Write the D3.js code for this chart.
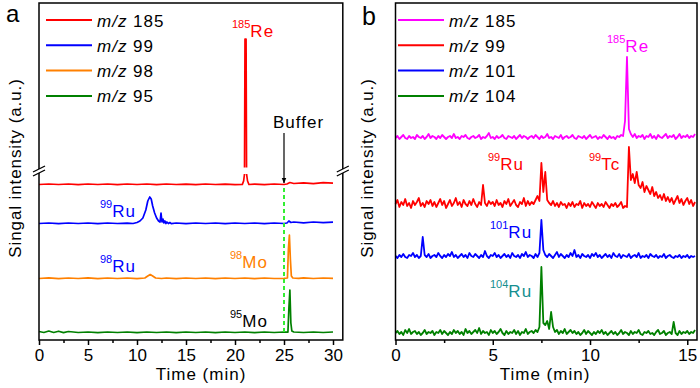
<!DOCTYPE html>
<html>
<head>
<meta charset="utf-8">
<script src="https://cdn.jsdelivr.net/npm/d3@7"></script>
<style>
  body { margin: 0; background: #fff; }
  svg text { font-family: "Liberation Sans", Arial, sans-serif; }
</style>
</head>
<body>
<script>
// ---- data ----
const legendA = ["185", "99", "98", "95"];
const legendB = ["185", "99", "101", "104"];
const ticksA = [0, 5, 10, 15, 20, 25, 30];
const minorA = [2.5, 7.5, 12.5, 17.5, 22.5, 27.5];
const ticksB = [0, 5, 10, 15];
const minorB = [2.5, 7.5, 12.5];

// panel a: [time (min), signal above baseline]
const redA = [[0,0.5],[1,1],[2,0.5],[3,1],[4,0.3],[5,1],[6,0.5],[7,1],[8,0.4],[9,1],[10,0.5],[11,1],[12,0.3],[13,1],[14,0.5],[15,0.8],[16,0.3],[17,1],[18,0.5],[19,0.8],[20,0.4],[20.75,0.6],[20.88,4],[20.97,11],[21.02,146],[21.13,146],[21.18,11],[21.28,4],[21.42,0.5],[22,0.8],[23,0.4],[24,1],[25,0.5],[25.3,1],[25.6,2.5],[26,1.5],[27,2.2],[28,1.4],[29,2.3],[30,1.8]];
const blueA = [[0,0.5],[1,1],[2,0.4],[3,1],[4,0.5],[5,1],[6,0.3],[7,1],[8,0.5],[9,0.8],[9.6,0.5],[10,1.5],[10.3,3],[10.6,6],[10.9,14],[11.1,23],[11.3,27],[11.45,25],[11.6,18],[11.8,11],[12.0,6],[12.2,3],[12.35,2],[12.45,11],[12.55,2],[12.65,5],[12.75,1],[12.85,3],[12.95,0.5],[13.05,2],[13.2,0.5],[13.35,1.5],[13.5,0.3],[14,1],[15,0.4],[16,1],[17,0.5],[18,1],[19,0.4],[20,1],[21,0.5],[22,1],[23,0.4],[24,1],[25,0.5],[25.3,1],[25.5,3],[25.7,1.5],[26,2],[27,1.2],[28,2],[29,1.3],[30,1.8]];
const orangeA = [[0,0.5],[1,1.2],[2,0.4],[3,1],[4,0.5],[5,1.1],[6,0.4],[7,1],[8,0.5],[9,1],[10,0.4],[10.8,1],[11.1,3],[11.35,4.5],[11.6,3],[11.9,1],[12.5,0.5],[13,1],[14,0.4],[15,1],[16,0.5],[17,1],[18,0.4],[19,1],[20,0.5],[21,1],[22,0.4],[23,1],[24,0.5],[25,0.6],[25.35,1],[25.45,30],[25.55,44],[25.65,20],[25.75,3],[25.9,1],[26.5,0.6],[27,1.2],[28,0.5],[29,1],[30,0.6]];
const greenA = [[0,1.5],[0.5,0.5],[1,2],[1.5,0.5],[2,1.8],[2.5,0.4],[3,1.5],[4,0.5],[5,1],[6,0.4],[7,1],[8,0.5],[9,1],[10,0.4],[11,1],[12,0.5],[13,1],[14,0.4],[15,1],[16,0.5],[17,1],[18,0.4],[19,1],[20,0.5],[21,1],[22,0.4],[23,1],[24,0.5],[25,1],[25.4,0.8],[25.5,25],[25.6,43],[25.7,10],[25.8,2],[26,1],[27,0.5],[28,1],[29,0.5],[30,1]];
const offsetA = [155, 116, 61, 7];
const breakA = 14;       // axis break, above the m/z 185 baseline
const bufferTime = 25;

// panel b: sampled every 0.1 min from 0
const stepB = 0.1;
const magentaB = [1,3,0,2,4,1,0,3,1,2, 0,4,2,1,3,0,2,5,1,3, 2,0,3,1,4,2,0,2,3,1, 5,1,2,0,3,2,4,1,0,2,
  3,1,2,4,0,2,1,3,6,1, 2,0,3,1,2,4,1,0,3,2, 1,3,0,2,4,1,3,2,0,2, 3,1,4,2,0,3,1,2,5,1,
  2,0,3,2,1,4,0,2,3,1, 2,4,1,0,3,2,1,3,0,2, 4,1,2,3,0,2,1,4,2,0, 3,1,2,0,3,2,4,3,18,82,
  10,5,2,5,1,3,2,4,0,3, 2,5,1,3,0,4,2,1,3,5, 1,3,2,4,0,2,5,1,3,2, 4,1,3,2,5];
const redB = [6,10,3,8,5,11,4,7,2,9, 5,8,12,4,7,3,9,6,10,4, 8,3,7,11,5,9,2,6,10,4, 7,12,5,8,3,10,6,4,9,5,
  11,6,3,8,5,25,7,4,9,6, 8,4,10,5,7,3,9,6,11,4, 7,10,5,3,8,6,12,4,9,5, 8,6,10,14,9,47,18,38,10,7,
  5,9,4,7,3,8,5,6,2,7, 4,8,3,6,5,9,2,7,4,6, 3,8,5,2,7,4,6,3,8,5, 2,6,4,7,3,5,8,2,4,3,
  63,30,36,27,38,25,22,28,18,24, 20,16,23,14,18,12,15,10,16,9, 13,8,12,6,10,14,7,11,5,9, 12,6,10,4,8];
const blueB = [2,0,3,1,4,1,0,3,2,5, 1,3,0,2,21,3,1,4,0,2, 3,1,5,2,0,3,1,4,2,6, 1,3,0,2,4,1,3,0,5,2,
  1,4,2,0,3,1,7,2,0,3, 2,5,1,3,0,2,4,1,3,0, 5,2,1,3,0,4,2,6,1,3, 2,0,4,1,5,38,8,3,1,4,
  2,0,3,6,1,4,2,0,3,1, 5,2,8,1,3,0,4,2,1,3, 0,4,2,5,1,3,0,2,4,1, 3,0,5,2,1,4,0,3,2,1,
  4,0,2,3,1,5,0,2,1,3, 0,4,2,1,3,0,2,1,4,0, 2,3,1,0,2,1,3,0,2,1, 3,0,2,1,2];
const greenB = [2,4,1,3,0,5,2,6,1,3, 4,1,3,0,2,5,1,3,2,4, 0,3,2,5,1,4,2,0,3,1, 5,2,4,1,3,0,6,2,4,1,
  3,5,2,7,1,4,2,3,0,5, 2,4,1,3,6,2,0,4,1,3, 2,5,1,4,0,3,2,6,1,3, 4,2,5,3,8,68,12,10,14,6,
  23,8,3,5,1,4,2,6,1,3, 5,2,4,1,3,0,2,5,1,4, 2,0,3,1,4,2,5,1,3,0, 2,4,1,3,0,2,5,1,3,2,
  0,4,1,3,2,5,1,0,3,2, 4,1,2,0,3,5,1,2,4,0, 2,3,1,13,2,0,4,1,3,2, 4,1,3,2,5];
const offsetB = [201, 130, 82, 5];

// ---- styles ----
const colorsA = ["#ff0000", "#0000ff", "#ff8000", "#008000"];
const colorsB = ["#ff00ff", "#ff0000", "#0000ff", "#008000"];
const fs = 17;

const svg = d3.select("body").append("svg").attr("width", 700).attr("height", 388);

const xA = d3.scaleLinear().domain([0, 31]).range([39, 342.8]);
const xB = d3.scaleLinear().domain([0, 15.5]).range([395.5, 697]);
const y = d3.scaleLinear().domain([0, 337]).range([340, 3]);

// clip for the broken red trace
const breakY = y(offsetA[0] + breakA);
const clip = svg.append("defs").append("clipPath").attr("id", "brk");
clip.append("rect").attr("x", 0).attr("y", 0).attr("width", 700).attr("height", breakY - 3.5);
clip.append("rect").attr("x", 0).attr("y", breakY + 3).attr("width", 700).attr("height", 400);

svg.select("defs").append("marker")
  .attr("id", "arrow").attr("viewBox", "0 0 10 10").attr("refX", 9).attr("refY", 5)
  .attr("markerWidth", 5).attr("markerHeight", 6).attr("orient", "auto")
  .append("path").attr("d", "M0,1 L10,5 L0,9 z").attr("fill", "#000");

// ---- panel a traces ----
const seriesA = [redA, blueA, orangeA, greenA];
seriesA.forEach((s, i) => {
  const line = d3.line().x((d) => xA(d[0])).y((d) => y(offsetA[i] + d[1]));
  const p = svg.append("path").datum(s).attr("d", line)
    .attr("fill", "none").attr("stroke", colorsA[i]).attr("stroke-width", 1.7)
    .attr("stroke-linejoin", "round");
  if (i === 0) p.attr("clip-path", "url(#brk)");
});

// buffer marker
svg.append("line")
  .attr("x1", xA(bufferTime)).attr("x2", xA(bufferTime))
  .attr("y1", y(offsetA[0]) + 3).attr("y2", y(offsetA[3]))
  .attr("stroke", "#33ee33").attr("stroke-width", 2).attr("stroke-dasharray", "4,3");
svg.append("line")
  .attr("x1", xA(bufferTime)).attr("x2", xA(bufferTime))
  .attr("y1", 133).attr("y2", y(offsetA[0]) - 2)
  .attr("stroke", "#000").attr("stroke-width", 1.2).attr("marker-end", "url(#arrow)");
svg.append("text").attr("x", 273).attr("y", 128).attr("font-size", fs)
  .attr("letter-spacing", 1).text("Buffer");

// ---- panel b traces ----
const seriesB = [magentaB, redB, blueB, greenB];
seriesB.forEach((s, i) => {
  const line = d3.line().x((d, j) => xB(j * stepB)).y((d) => y(offsetB[i] + d));
  svg.append("path").datum(s).attr("d", line)
    .attr("fill", "none").attr("stroke", colorsB[i]).attr("stroke-width", 1.8)
    .attr("stroke-linejoin", "round");
});

// ---- frames ----
const frame = (x0, x1) => {
  svg.append("rect").attr("x", x0).attr("y", y(337)).attr("width", x1 - x0)
    .attr("height", y(0) - y(337)).attr("fill", "none")
    .attr("stroke", "#000").attr("stroke-width", 1.5);
};
frame(xA.range()[0], xA.range()[1]);
frame(xB.range()[0], xB.range()[1]);

// axis break marks on panel a
[xA.range()[0], xA.range()[1]].forEach((sx) => {
  svg.append("rect").attr("x", sx - 2).attr("y", breakY - 2).attr("width", 4).attr("height", 4).attr("fill", "#fff");
  [-2, 2].forEach((o) => {
    svg.append("line").attr("x1", sx - 6).attr("y1", breakY + o + 3)
      .attr("x2", sx + 6).attr("y2", breakY + o - 3)
      .attr("stroke", "#000").attr("stroke-width", 1.3);
  });
});

// ---- axes ----
const drawAxis = (scale, major, minor, title, cx) => {
  const g = svg.append("g").attr("transform", "translate(0," + y(0) + ")")
    .call(d3.axisBottom(scale).tickValues(major).tickSize(5).tickPadding(4).tickFormat(d3.format("d")));
  g.select(".domain").remove();
  g.selectAll("line").attr("stroke", "#000").attr("stroke-width", 1.5);
  g.selectAll("text").attr("font-size", fs).attr("fill", "#000")
    .attr("font-family", "Liberation Sans, Arial, sans-serif");
  const m = svg.append("g").attr("transform", "translate(0," + y(0) + ")")
    .call(d3.axisBottom(scale).tickValues(minor).tickSize(3).tickFormat(""));
  m.select(".domain").remove();
  m.selectAll("line").attr("stroke", "#000").attr("stroke-width", 1.5);
  svg.append("text").attr("x", cx).attr("y", 380).attr("text-anchor", "middle")
    .attr("font-size", fs).attr("letter-spacing", 1).text(title);
};
drawAxis(xA, ticksA, minorA, "Time (min)", 201);
drawAxis(xB, ticksB, minorB, "Time (min)", 545);

const yTitle = (x, t) => {
  svg.append("text").attr("transform", "translate(" + x + ",168) rotate(-90)")
    .attr("text-anchor", "middle").attr("font-size", fs).attr("letter-spacing", 0.9).text(t);
};
yTitle(21, "Singal intensity (a.u.)");
yTitle(373, "Signal intensity (a.u.)");

svg.append("text").attr("x", 6).attr("y", 22).attr("font-size", 24).text("a");
svg.append("text").attr("x", 362).attr("y", 25).attr("font-size", 25).text("b");

// ---- legends ----
const legend = (x0, labels, colors) => {
  labels.forEach((l, i) => {
    const ly = 20 + i * 25.3;
    svg.append("line").attr("x1", x0).attr("x2", x0 + 46).attr("y1", ly).attr("y2", ly)
      .attr("stroke", colors[i]).attr("stroke-width", 2);
    const t = svg.append("text").attr("x", x0 + 51).attr("y", ly + 6.5)
      .attr("font-size", fs).attr("letter-spacing", 1);
    t.append("tspan").attr("font-style", "italic").text("m/z");
    t.append("tspan").text(" " + l);
  });
};
legend(46, legendA, colorsA);
legend(398, legendB, colorsB);

// ---- peak labels ----
const label = (x, yb, sup, main, color) => {
  const t = svg.append("text").attr("x", x).attr("y", yb).attr("fill", color);
  t.append("tspan").attr("font-size", 11).attr("dy", -9).text(sup);
  t.append("tspan").attr("font-size", fs).attr("dy", 9).attr("letter-spacing", 1).text(main);
};
label(232, 37, "185", "Re", "#ff0000");
label(100, 217, "99", "Ru", "#0000ff");
label(100, 272, "98", "Ru", "#0000ff");
label(230, 268, "98", "Mo", "#ff8000");
label(230, 327, "95", "Mo", "#000");

label(607, 52, "185", "Re", "#ff00ff");
label(488, 170, "99", "Ru", "#ff0000");
label(589, 170, "99", "Tc", "#ff0000");
label(490, 238, "101", "Ru", "#0000ff");
label(490, 297, "104", "Ru", "#168f8f");
</script>
</body>
</html>
